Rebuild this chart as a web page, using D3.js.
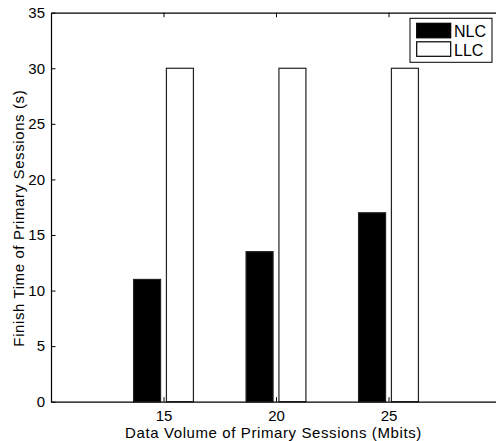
<!DOCTYPE html>
<html>
<head>
<meta charset="utf-8">
<script src="https://cdn.jsdelivr.net/npm/d3@7"></script>
<style>
  body { margin: 0; background: #fff; }
  svg { font-family: "Liberation Sans", Arial, sans-serif; }
</style>
</head>
<body>
<div id="chart"></div>
<script>
// data
const volumes = [15, 20, 25]
const nlc = [11, 13.5, 17]
const llc = [30, 30, 30]
const seriesNames = ["NLC", "LLC"]
const xTicks = [15, 20, 25]
const yTicks = [0, 5, 10, 15, 20, 25, 30, 35]

const W = 496, H = 441
const margin = {top: 12.7, right: -5, bottom: 39.3, left: 51}

const svg = d3.select("#chart").append("svg")
    .attr("width", W)
    .attr("height", H)

const x = d3.scaleLinear()
    .domain([10, 30])
    .range([margin.left, W - margin.right])

const y = d3.scaleLinear()
    .domain([0, 35])
    .range([H - margin.bottom, margin.top])

// grouped bar offsets in data units
const barW = 1.2
const offs = [-0.73, 0.73]
const fills = ["#000", "#fff"]
const series = [nlc, llc]

series.forEach((vals, s) => {
  svg.append("g")
    .selectAll("rect")
    .data(vals)
    .join("rect")
      .attr("x", (d, i) => x(volumes[i] + offs[s] - barW / 2))
      .attr("width", x(barW) - x(0))
      .attr("y", d => y(d))
      .attr("height", d => y(0) - y(d))
      .attr("fill", fills[s])
      .attr("stroke", "#222")
      .attr("stroke-width", 1.2)
})

// axes, inward ticks like matlab
const tl = 4.5
const xB = d3.axisBottom(x).tickValues(xTicks).tickSizeInner(-tl).tickSizeOuter(0).tickPadding(9)
const xT = d3.axisTop(x).tickValues(xTicks).tickSizeInner(-tl).tickSizeOuter(0).tickFormat("")
const yL = d3.axisLeft(y).tickValues(yTicks).tickSizeInner(-tl).tickSizeOuter(0).tickPadding(6)
const yR = d3.axisRight(y).tickValues(yTicks).tickSizeInner(-tl).tickSizeOuter(0).tickFormat("")

function styleAxis(g) {
  g.selectAll("path").attr("stroke", "#000").attr("stroke-width", 1.2)
  g.selectAll("line").attr("stroke", "#000")
  g.selectAll("text").attr("font-size", 15).attr("fill", "#000")
    .attr("font-family", "Liberation Sans, Arial, sans-serif")
}

svg.append("g").attr("transform", `translate(0,${y(0)})`).call(xB).call(styleAxis)
svg.append("g").attr("transform", `translate(0,${y(35)})`).call(xT).call(styleAxis)
svg.append("g").attr("transform", `translate(${x(10)},0)`).call(yL).call(styleAxis)
svg.append("g").attr("transform", `translate(${x(30)},0)`).call(yR).call(styleAxis)

// axis labels
svg.append("text")
    .attr("x", 273.5)
    .attr("y", 437.5)
    .attr("text-anchor", "middle")
    .attr("font-size", 15)
    .attr("letter-spacing", 0.6)
    .text("Data Volume of Primary Sessions (Mbits)")

svg.append("text")
    .attr("transform", `translate(24,${(y(0) + y(35)) / 2 + 11}) rotate(-90)`)
    .attr("text-anchor", "middle")
    .attr("font-size", 15)
    .attr("letter-spacing", 0.6)
    .text("Finish Time of Primary Sessions (s)")

// legend
const lg = svg.append("g").attr("transform", "translate(410,18.3)")
lg.append("rect")
    .attr("width", 82).attr("height", 44)
    .attr("fill", "#fff").attr("stroke", "#000").attr("stroke-width", 1)
seriesNames.forEach((n, i) => {
  lg.append("rect")
      .attr("x", 6.7).attr("y", 5 + i * 18.5)
      .attr("width", 34).attr("height", 14.5)
      .attr("fill", fills[i]).attr("stroke", "#000").attr("stroke-width", 1.2)
  lg.append("text")
      .attr("x", 44).attr("y", 18.5 + i * 19.5)
      .attr("font-size", 16)
      .text(n)
})
</script>
</body>
</html>
